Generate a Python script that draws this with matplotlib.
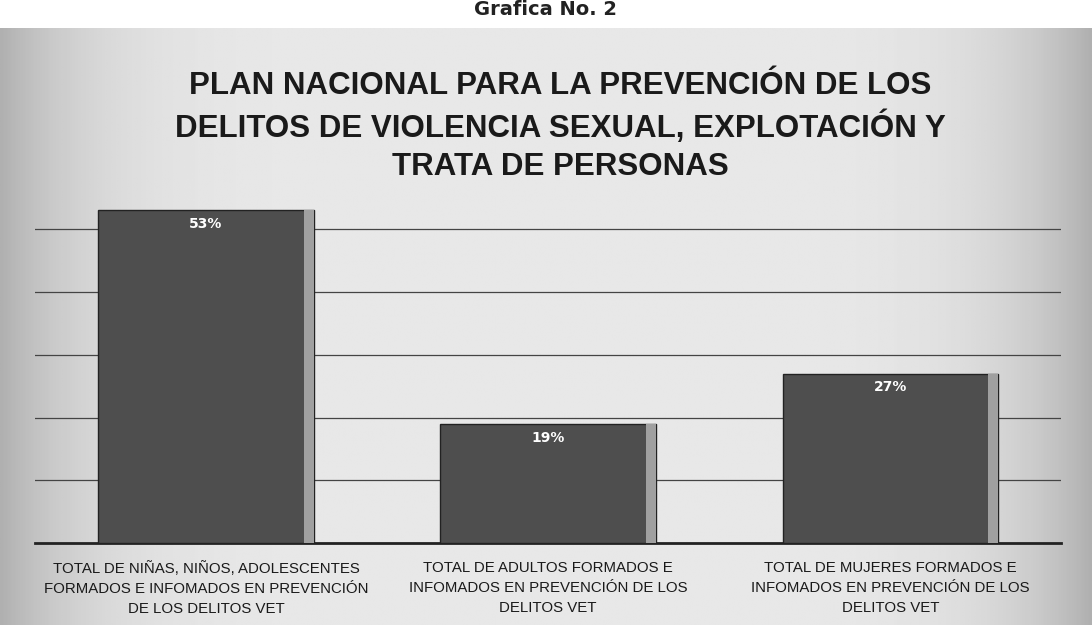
import numpy as np
import matplotlib
matplotlib.use('Agg')
import matplotlib.pyplot as plt

# Data
categories = [
    'TOTAL DE NIÑAS, NIÑOS, ADOLESCENTES\nFORMADOS E INFOMADOS EN PREVENCIÓN\nDE LOS DELITOS VET',
    'TOTAL DE ADULTOS FORMADOS E\nINFOMADOS EN PREVENCIÓN DE LOS\nDELITOS VET',
    'TOTAL DE MUJERES FORMADOS E\nINFOMADOS EN PREVENCIÓN DE LOS\nDELITOS VET',
]
values = [53, 19, 27]
value_labels = ['53%', '19%', '27%']

title = ('PLAN NACIONAL PARA LA PREVENCIÓN DE LOS\n'
         'DELITOS DE VIOLENCIA SEXUAL, EXPLOTACIÓN Y\n'
         'TRATA DE PERSONAS')

plt.rcParams['font.family'] = ['Liberation Sans', 'DejaVu Sans']

fig = plt.figure(figsize=(10.92, 6.25), dpi=100)
fig.patch.set_facecolor('white')

# Background panel with darker edges (scanned look)
bg = fig.add_axes([0, 0, 1, 0.955], zorder=0)
xs = np.linspace(-1, 1, 400)
shade = 0.91 - 0.22 * np.abs(xs) ** 6
bg.imshow(np.tile(shade, (10, 1)), cmap='gray', vmin=0, vmax=1,
          aspect='auto', extent=[0, 1, 0, 1])
bg.axis('off')

fig.text(0.5, 0.985, 'Grafica No. 2', ha='center', va='center',
         fontsize=14, fontweight='bold', family='DejaVu Sans', color='#222222')

fig.text(0.513, 0.797, title, ha='center', va='center', fontsize=22.5,
         fontweight='bold', color='#1a1a1a', linespacing=1.35)

ax = fig.add_axes([0.032, 0.131, 0.94, 0.603], zorder=1)
ax.patch.set_alpha(0)
x = np.arange(len(values))
w = 0.63
ax.bar(x, values, width=w, color='#4e4e4e', edgecolor='#222222', linewidth=1.0, zorder=3)
# light bevel on the right side of each bar
ax.bar(x + w / 2 - 0.015, values, width=0.03, color='#a0a0a0', edgecolor='none', zorder=4)

for xi, v, lab in zip(x, values, value_labels):
    ax.text(xi, v - 2.2, lab, ha='center', va='center', color='white',
            fontsize=10, fontweight='bold', family='DejaVu Sans', zorder=5)

ax.set_ylim(0, 60)
ax.set_xlim(-0.5, 2.5)
ax.set_yticks([10, 20, 30, 40, 50])
ax.yaxis.grid(True, color='#444444', linewidth=0.9)
ax.set_axisbelow(True)
ax.tick_params(axis='y', length=0, labelleft=False)
ax.tick_params(axis='x', length=0, pad=13)
ax.set_xticks(x)
ax.set_xticklabels(categories, fontsize=10.8, color='#1a1a1a', linespacing=1.55)
for s in ['top', 'right', 'left']:
    ax.spines[s].set_visible(False)
ax.spines['bottom'].set_color('#222222')
ax.spines['bottom'].set_linewidth(2)

plt.savefig('out.png', dpi=100)
plt.close()
